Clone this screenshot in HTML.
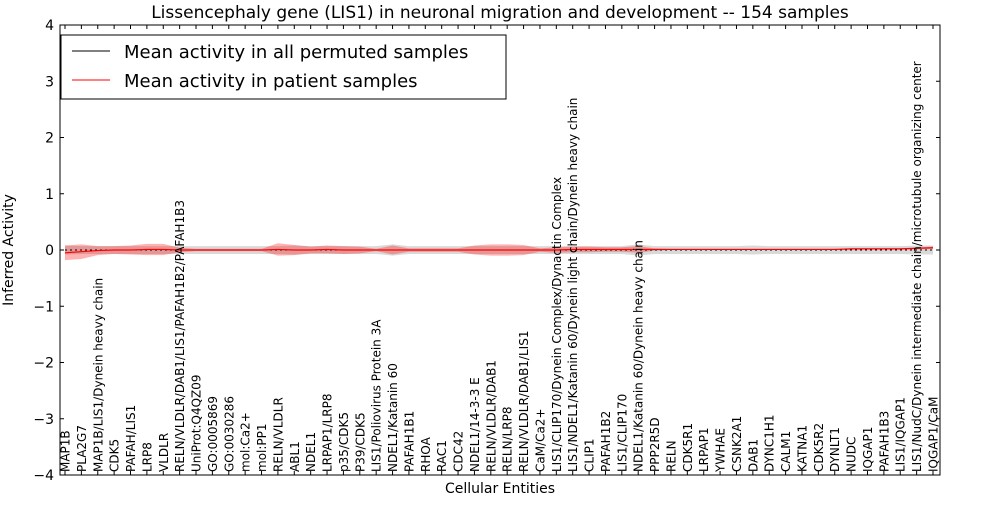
<!DOCTYPE html>
<html><head><meta charset="utf-8"><style>
body{margin:0;background:#fff;font-family:"Liberation Sans","DejaVu Sans",sans-serif}
svg text{font-family:"DejaVu Sans","Liberation Sans",sans-serif}
</style></head><body>
<svg id="chart" width="1000" height="500" xmlns="http://www.w3.org/2000/svg">
<rect x="0" y="0" width="1000" height="500" fill="#fff"/>
<g id="plot"></g>
</svg>
<script>
const categories=["MAP1B","PLA2G7","MAP1B/LIS1/Dynein heavy chain","CDK5","PAFAH/LIS1","LRP8","VLDLR","RELN/VLDLR/DAB1/LIS1/PAFAH1B2/PAFAH1B3","UniProt:Q4QZ09","GO:0005869","GO:0030286","mol:Ca2+","mol:PP1","RELN/VLDLR","ABL1","NDEL1","LRPAP1/LRP8","p35/CDK5","P39/CDK5","LIS1/Poliovirus Protein 3A","NDEL1/Katanin 60","PAFAH1B1","RHOA","RAC1","CDC42","NDEL1/14-3-3 E","RELN/VLDLR/DAB1","RELN/LRP8","RELN/VLDLR/DAB1/LIS1","CaM/Ca2+","LIS1/CLIP170/Dynein Complex/Dynactin Complex","LIS1/NDEL1/Katanin 60/Dynein light chain/Dynein heavy chain","CLIP1","PAFAH1B2","LIS1/CLIP170","NDEL1/Katanin 60/Dynein heavy chain","PPP2R5D","RELN","CDK5R1","LRPAP1","YWHAE","CSNK2A1","DAB1","DYNC1H1","CALM1","KATNA1","CDK5R2","DYNLT1","NUDC","IQGAP1","PAFAH1B3","LIS1/IQGAP1","LIS1/NudC/Dynein intermediate chain/microtubule organizing center","IQGAP1/CaM"];
const patientMean=[-0.05,-0.03,-0.01,0,0,0.01,0.01,0,0,0,0,0,0,0.01,0,0,0.01,0,0,0,0,0,0,0,0,0,0,0,0,0,0,0.01,0.01,0.01,0.01,0.01,0.01,0.01,0.01,0.01,0.01,0.01,0.01,0.01,0.01,0.01,0.01,0.01,0.02,0.02,0.02,0.02,0.03,0.04];
const patientSpread=[0.13,0.13,0.08,0.07,0.08,0.1,0.1,0.04,0.02,0.02,0.02,0.02,0.02,0.11,0.09,0.06,0.07,0.07,0.06,0.02,0.08,0.03,0.03,0.03,0.03,0.08,0.1,0.1,0.09,0.03,0.05,0.05,0.05,0.04,0.04,0.06,0.02,0.01,0.01,0.01,0.01,0.01,0.01,0.01,0.01,0.01,0.01,0.01,0.01,0.01,0.01,0.01,0.02,0.02];
const permMean=[0,0,0,0,0,0,0,0,0,0,0,0,0,0,0,0,0,0,0,0,0,0,0,0,0,0,0,0,0,0,0,0,0,0,0,0,0,0,0,0,0,0,0,0,0,0,0,0,0,0,0,0,0,0];
const permSpread=[0.08,0.07,0.07,0.07,0.07,0.07,0.07,0.07,0.07,0.07,0.07,0.07,0.07,0.07,0.08,0.07,0.07,0.07,0.07,0.07,0.1,0.07,0.07,0.07,0.07,0.07,0.07,0.07,0.07,0.07,0.07,0.07,0.07,0.07,0.07,0.1,0.07,0.07,0.07,0.07,0.07,0.07,0.08,0.07,0.07,0.07,0.07,0.07,0.07,0.07,0.07,0.07,0.08,0.08];
const yTicks=[-4,-3,-2,-1,0,1,2,3,4];

const L=60,R=940,T=25,B=475;
const x0=65,dx=(933-65)/(categories.length-1);
const xs=i=>x0+i*dx;
const ys=v=>T+(4-v)/8*(B-T);
const NS="http://www.w3.org/2000/svg";
const plot=document.getElementById('plot');
function mk(tag,attrs,parent){const e=document.createElementNS(NS,tag);for(const k in attrs)e.setAttribute(k,attrs[k]);(parent||plot).appendChild(e);return e;}
function band(mean,spread){let up=mean.map((m,i)=>xs(i)+','+ys(m+spread[i]));let dn=mean.map((m,i)=>xs(i)+','+ys(m-spread[i])).reverse();return up.concat(dn).join(' ');}
function line(arr){return arr.map((m,i)=>xs(i)+','+ys(m)).join(' ');}

let e;
e=mk('polygon',{points:band(permMean,permSpread),fill:'#aaaaaa','fill-opacity':'0.45'});


e=mk('polygon',{points:band(patientMean,patientSpread),fill:'#ff0000','fill-opacity':'0.3'});


e=mk('polyline',{points:line(permMean),fill:'none',stroke:'#000','stroke-width':1,'stroke-dasharray':'2,3'});


e=mk('polyline',{points:line(patientMean),fill:'none',stroke:'#ff0000','stroke-width':1.2});



e=mk('rect',{x:L,y:T,width:R-L,height:B-T,fill:'none',stroke:'#000','stroke-width':1});



yTicks.forEach(v=>{
  const y=ys(v);
  mk('line',{x1:L,x2:L+4,y1:y,y2:y,stroke:'#000'});
  mk('line',{x1:R,x2:R-4,y1:y,y2:y,stroke:'#000'});
  const t=mk('text',{x:L-6,y:y+5,'text-anchor':'end','font-size':14});
  t.textContent=(v<0?'\u2212':'')+Math.abs(v);
  
  
});
categories.forEach((c,i)=>{
  const x=xs(i);
  mk('line',{x1:x,x2:x,y1:B,y2:B-4,stroke:'#000'});
  mk('line',{x1:x,x2:x,y1:T,y2:T+4,stroke:'#000'});
  const t=mk('text',{x:0,y:0,transform:`translate(${x+4.5},${B-3}) rotate(-90)`,'font-size':12});
  t.textContent=c;
  
  
});

e=mk('text',{x:500,y:18,'text-anchor':'middle','font-size':17});
e.textContent='Lissencephaly gene (LIS1) in neuronal migration and development -- 154 samples';


e=mk('text',{x:500,y:493,'text-anchor':'middle','font-size':14});
e.textContent='Cellular Entities';


e=mk('text',{x:0,y:0,transform:'translate(13,250) rotate(-90)','text-anchor':'middle','font-size':14});
e.textContent='Inferred Activity';



const lg=mk('g',{});


mk('rect',{x:61,y:35,width:445,height:64,fill:'#fff',stroke:'#000'},lg);
mk('line',{x1:72,x2:110,y1:51,y2:51,stroke:'#000','stroke-width':1},lg);
mk('line',{x1:72,x2:110,y1:80,y2:80,stroke:'#ff0000','stroke-width':1},lg);
e=mk('text',{x:124,y:58,'font-size':18},lg);e.textContent='Mean activity in all permuted samples';


e=mk('text',{x:124,y:87,'font-size':18},lg);e.textContent='Mean activity in patient samples';


</script>
</body></html>
